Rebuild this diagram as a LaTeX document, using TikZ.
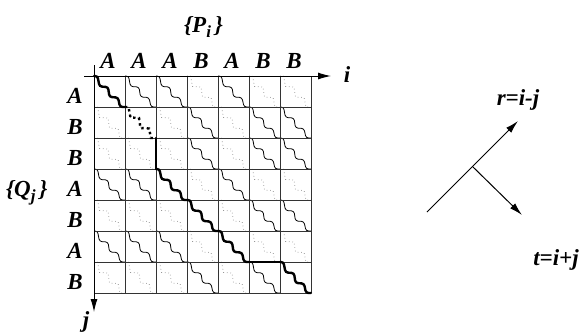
\documentclass[tikz,border=0pt]{standalone}
\usepackage{fontspec}
\setmainfont{Liberation Serif}[BoldItalicFont={Liberation Serif Bold Italic}]
\usetikzlibrary{arrows.meta}
\tikzset{
  lbl/.style={font=\fontsize{23}{27}\selectfont\bfseries\itshape, inner sep=0pt},
  gridline/.style={line width=0.9pt, black!80},
  axis/.style={line width=1pt, -{Latex[length=13pt,width=7pt]}},
  wavethin/.style={draw, line width=0.8pt, rounded corners=2.5pt},
  wavethick/.style={draw, line width=2.4pt, rounded corners=2.5pt, line cap=round},
  dotthin/.style={draw, line width=0.7pt, black!50, dash pattern=on 0.7pt off 2.8pt},
  dotthick/.style={draw, line width=2.4pt, dash pattern=on 2.4pt off 3.2pt},
  stair/.pic={\path[pic actions] (0,0) -- (3.5,0) -- (5.5,10.5) -- (14,11) -- (15.5,21) -- (24,21.5) -- (26,31) -- (31,31);},
}
\begin{document}
\begin{tikzpicture}[x=1pt,y=-1pt]
\useasboundingbox (0,0) rectangle (584,333);
% cell contents
\foreach \c/\p in {1/1,2/1,3/1,4/2,5/1,6/2,7/2}{
  \foreach \r/\q in {1/1,2/2,3/2,4/1,5/2,6/1,7/2}{
    \ifnum\p=\q
      \pic[wavethin] at ({94+31*(\c-1)},{76+31*(\r-1)}) {stair};
    \else
      \pic[dotthin] at ({94+31*(\c-1)},{76+31*(\r-1)}) {stair};
    \fi
  }
}
% grid
\foreach \k in {0,...,7}{
  \draw[gridline] ({94+31*\k},76) -- ({94+31*\k},293);
  \draw[gridline] (94,{76+31*\k}) -- (311,{76+31*\k});
}
% axes
\coordinate (xs) at (84,76);
\coordinate (xe) at (331,76);
\coordinate (ys) at (94,65);
\coordinate (ye) at (94,312);
\draw[axis] (xs) -- (xe);
\draw[axis] (ys) -- (ye);
\node[lbl] (ilab) at (347,75) {i};
\node[lbl] (jlab) at (86,322) {j};
% thick path
\pic[wavethick] at (94,76) {stair};
\pic[dotthick] at (125,107) {stair};
\coordinate (v1) at (156,138);
\coordinate (v2) at (156,169);
\draw[line width=2.4pt, line cap=round] (v1) -- (v2);
\pic[wavethick] at (156,169) {stair};
\pic[wavethick] at (187,200) {stair};
\pic[wavethick] at (218,231) {stair};
\coordinate (h1) at (249,262);
\coordinate (h2) at (280,262);
\draw[line width=2.4pt, line cap=round] (h1) -- (h2);
\pic[wavethick] at (280,262) {stair};
% labels
\foreach \c/\t in {1/A,2/A,3/A,4/B,5/A,6/B,7/B}
  \node[lbl] (col\c) at ({94+31*(\c-1)+14},61) {\t};
\foreach \r/\t in {1/A,2/B,3/B,4/A,5/B,6/A,7/B}
  \node[lbl] (row\r) at (75,{76+31*(\r-1)+19.5}) {\t};
\node[lbl, anchor=base west] (P) at (184,32) {\{P\raisebox{-5pt}{\fontsize{17}{17}\selectfont i}\,\}};
\node[lbl, anchor=base west] (Q) at (6,196) {\{Q\raisebox{-5pt}{\fontsize{17}{17}\selectfont j}\,\}};
% right figure
\coordinate (a) at (427,212);
\coordinate (b) at (518,121);
\coordinate (m) at (472.5,166.5);
\coordinate (c) at (522,215);
\draw[axis] (a) -- (b);
\draw[axis] (m) -- (c);
\node[lbl] (rlab) at (518,100) {r=i-j};
\node[lbl] (tlab) at (556,260) {t=i+j};
\end{tikzpicture}
\end{document}
